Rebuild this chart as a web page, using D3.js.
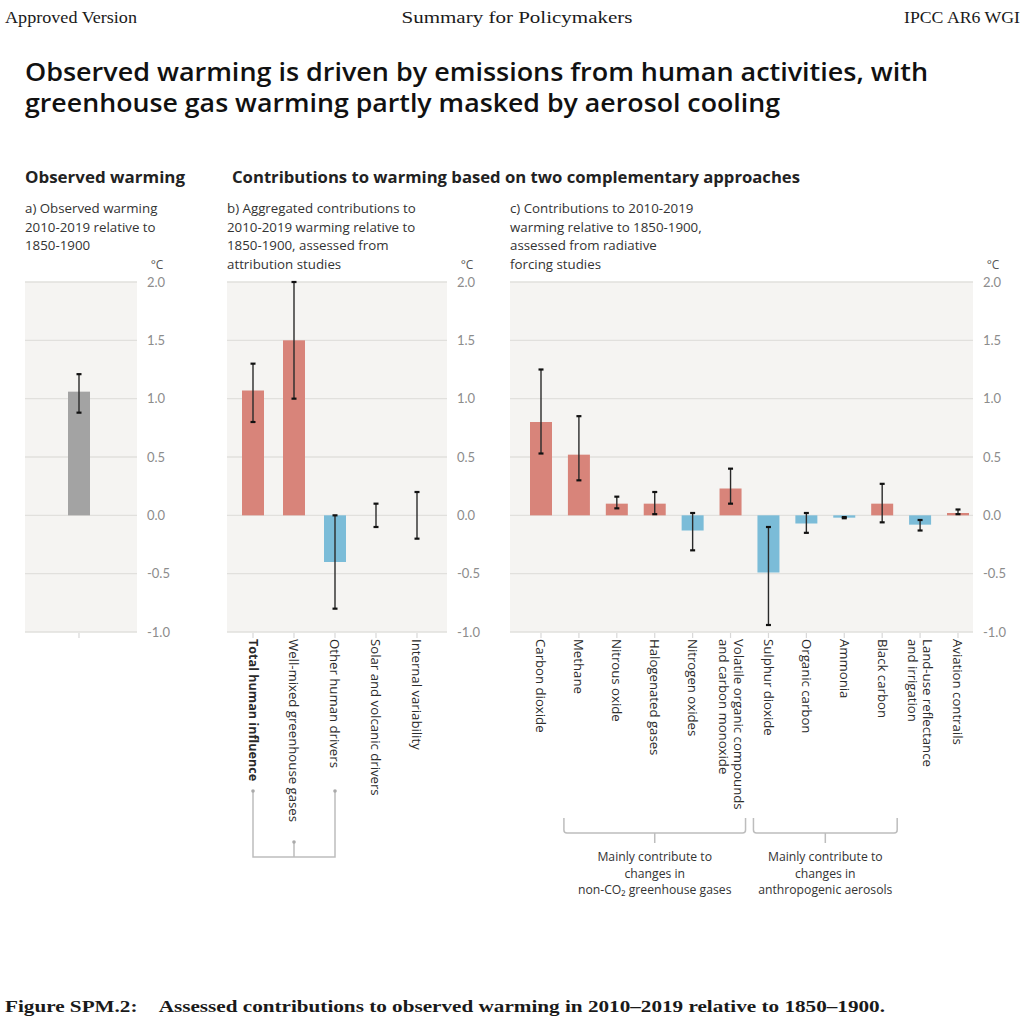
<!DOCTYPE html>
<html>
<head>
<meta charset="utf-8">
<script src="https://cdn.jsdelivr.net/npm/d3@7"></script>
<style>
  body { margin: 0; background: #fff; }
  text { font-family: "Open Sans", Lato, sans-serif; }
</style>
</head>
<body>
<div id="chart"></div>
<script>
var svgWidth = 1024;
var svgHeight = 1024;

// data (degrees C)
var obsCats = ["Observed"];
var obsVal = [1.06];
var obsLo = [0.88];
var obsHi = [1.21];

var aggCats = ["Total human influence", "Well-mixed greenhouse gases", "Other human drivers",
  "Solar and volcanic drivers", "Internal variability"];
var aggVal = [1.07, 1.5, -0.4, 0.0, 0.0];
var aggLo = [0.8, 1.0, -0.8, -0.1, -0.2];
var aggHi = [1.3, 2.0, 0.0, 0.1, 0.2];

var rfCats = ["Carbon dioxide", "Methane", "Nitrous oxide", "Halogenated gases", "Nitrogen oxides",
  "Volatile organic compounds|and carbon monoxide", "Sulphur dioxide", "Organic carbon", "Ammonia",
  "Black carbon", "Land-use reflectance|and irrigation", "Aviation contrails"];
var rfVal = [0.80, 0.52, 0.10, 0.10, -0.13, 0.23, -0.49, -0.07, -0.02, 0.10, -0.08, 0.02];
var rfLo = [0.53, 0.30, 0.06, 0.01, -0.30, 0.10, -0.94, -0.15, -0.025, -0.06, -0.13, 0.01];
var rfHi = [1.25, 0.85, 0.16, 0.20, 0.02, 0.40, -0.10, 0.02, -0.015, 0.27, -0.04, 0.05];

var yTicks = [-1.0, -0.5, 0.0, 0.5, 1.0, 1.5, 2.0];

var red = "#d8847a";
var blue = "#7bbcd8";
var grey = "#a3a3a3";

var svg = d3.select("#chart")
  .append("svg")
  .attr("width", svgWidth)
  .attr("height", svgHeight);

function serif(x, y, size, anchor, len, txt, weight) {
  svg.append("text").attr("x", x).attr("y", y)
    .attr("font-size", size).attr("text-anchor", anchor)
    .attr("font-weight", weight || 400)
    .attr("textLength", len).attr("lengthAdjust", "spacingAndGlyphs")
    .attr("fill", "#1a1a1a").style("font-family", "'Liberation Serif', serif").text(txt);
}

// page header
serif(5, 23, 17, "start", 132, "Approved Version");
serif(517, 23, 17, "middle", 231, "Summary for Policymakers");
serif(1020, 23, 17, "end", 116, "IPCC AR6 WGI");

// main title
var title = ["Observed warming is driven by emissions from human activities, with",
  "greenhouse gas warming partly masked by aerosol cooling"];
var titleLen = [903, 755];
title.forEach(function(t, i) {
  svg.append("text").attr("x", 25).attr("y", 81 + i * 31)
    .attr("font-size", 25).attr("font-weight", 600).attr("fill", "#111")
    .attr("textLength", titleLen[i]).attr("lengthAdjust", "spacingAndGlyphs").text(t);
});

svg.append("text").attr("x", 25).attr("y", 183).attr("font-size", 15.5)
  .attr("font-weight", 700).attr("fill", "#222")
  .attr("textLength", 160).attr("lengthAdjust", "spacingAndGlyphs").text("Observed warming");
svg.append("text").attr("x", 232).attr("y", 183).attr("font-size", 15.5)
  .attr("font-weight", 700).attr("fill", "#222")
  .attr("textLength", 568).attr("lengthAdjust", "spacingAndGlyphs")
  .text("Contributions to warming based on two complementary approaches");

var yScale = d3.scaleLinear().domain([-1, 2]).range([632, 282]);

function drawPanel(opts) {
  var g = svg.append("g");

  // subtitle
  opts.sub.forEach(function(t, i) {
    g.append("text").attr("x", opts.x0).attr("y", 213 + i * 18.5)
      .attr("font-size", 13.3).attr("fill", "#333").text(t);
  });

  g.append("rect")
    .attr("x", opts.x0).attr("y", yScale(2))
    .attr("width", opts.x1 - opts.x0).attr("height", yScale(-1) - yScale(2))
    .attr("fill", "#f5f4f2");

  g.selectAll(".grid").data(yTicks).enter().append("line")
    .attr("x1", opts.x0).attr("x2", opts.x1)
    .attr("y1", d => yScale(d)).attr("y2", d => yScale(d))
    .attr("stroke", "#e1e0dd").attr("stroke-width", 1.3);

  var axis = d3.axisRight(yScale).tickValues(yTicks)
    .tickFormat(d => d3.format(".1f")(d).replace("\u2212", "-")).tickSize(0);
  var ax = g.append("g").attr("transform", `translate(${opts.x1 + 10}, 0)`).call(axis);
  ax.select(".domain").remove();
  ax.selectAll("text").attr("font-size", 13).attr("fill", "#8c8c8c")
    .style("font-family", "Lato, sans-serif").attr("x", 0);
  g.append("text").attr("x", opts.x1 + 20).attr("y", 269).attr("text-anchor", "middle")
    .attr("font-size", 12).attr("fill", "#555").text("°C");

  var x = d3.scalePoint().domain(opts.cats).range(opts.range);
  var data = opts.cats.map(function(c, i) {
    return { cat: c, v: opts.val[i], lo: opts.lo[i], hi: opts.hi[i] };
  });

  // small ticks under the axis
  g.selectAll(".xt").data(data).enter().append("line")
    .attr("x1", d => x(d.cat)).attr("x2", d => x(d.cat))
    .attr("y1", yScale(-1) + 1).attr("y2", yScale(-1) + 6)
    .attr("stroke", "#d8d8d8").attr("stroke-width", 1.2);

  var bw = 22;
  g.selectAll(".bar").data(data).enter().append("rect")
    .attr("x", d => x(d.cat) - bw / 2)
    .attr("y", d => yScale(Math.max(0, d.v)))
    .attr("width", bw)
    .attr("height", d => Math.abs(yScale(d.v) - yScale(0)))
    .attr("fill", d => opts.color ? opts.color : (d.v >= 0 ? red : blue));

  g.selectAll(".err").data(data).enter().append("line")
    .attr("x1", d => x(d.cat)).attr("x2", d => x(d.cat))
    .attr("y1", d => yScale(d.lo)).attr("y2", d => yScale(d.hi))
    .attr("stroke", "#2a2a2a").attr("stroke-width", 1.4);
  ["lo", "hi"].forEach(function(k) {
    g.selectAll(".cap" + k).data(data).enter().append("line")
      .attr("x1", d => x(d.cat) - 2.5).attr("x2", d => x(d.cat) + 2.5)
      .attr("y1", d => yScale(d[k])).attr("y2", d => yScale(d[k]))
      .attr("stroke", "#111").attr("stroke-width", 2.2);
  });

  if (opts.labels) {
    data.forEach(function(d, i) {
      var lines = d.cat.split("|");
      var t = g.append("text")
        .attr("transform", `translate(${x(d.cat)}, ${yScale(-1) + 7}) rotate(90)`)
        .attr("font-size", opts.boldFirst && i === 0 ? 12.6 : 13.2).attr("fill", "#2a2a2a")
        .attr("font-weight", opts.boldFirst && i === 0 ? 700 : 400);
      lines.forEach(function(l, j) {
        t.append("tspan").attr("x", 0)
          .attr("dy", lines.length === 1 ? "0.35em" : (j === 0 ? "-0.25em" : "1.15em"))
          .text(l);
      });
    });
  }
  return x;
}

drawPanel({
  x0: 25, x1: 137, sub: ["a) Observed warming", "2010-2019 relative to", "1850-1900"],
  cats: obsCats, val: obsVal, lo: obsLo, hi: obsHi, range: [79, 79], color: grey, labels: false
});

var xb = drawPanel({
  x0: 227, x1: 447, sub: ["b) Aggregated contributions to", "2010-2019 warming relative to",
    "1850-1900, assessed from", "attribution studies"],
  cats: aggCats, val: aggVal, lo: aggLo, hi: aggHi, range: [253, 417], labels: true, boldFirst: true
});

var xc = drawPanel({
  x0: 510, x1: 973, sub: ["c) Contributions to 2010-2019", "warming relative to 1850-1900,",
    "assessed from radiative", "forcing studies"],
  cats: rfCats, val: rfVal, lo: rfLo, hi: rfHi, range: [541, 958], labels: true
});

// bracket joining human influence components in panel b
var bc = "#bdbdbd";
var b0 = xb(aggCats[0]), b1 = xb(aggCats[1]), b2 = xb(aggCats[2]);
svg.append("path")
  .attr("d", `M${b0},791 V857 H${b2} V791 M${b1},842 V857`)
  .attr("fill", "none").attr("stroke", bc).attr("stroke-width", 1.5);
[[b0, 791], [b1, 842], [b2, 791]].forEach(function(p) {
  svg.append("circle").attr("cx", p[0]).attr("cy", p[1]).attr("r", 1.8).attr("fill", "#aaa");
});

// group brackets in panel c
var groups = [
  { from: rfCats[1], to: rfCats[5], text: ["Mainly contribute to", "changes in", "non-CO\u2082 greenhouse gases"] },
  { from: rfCats[6], to: rfCats[9], text: ["Mainly contribute to", "changes in", "anthropogenic aerosols"] }
];
groups.forEach(function(gr) {
  var l = xc(gr.from) - 15, r = xc(gr.to) + 15, m = (l + r) / 2;
  svg.append("path")
    .attr("d", `M${l},818 V830 Q${l},833 ${l + 3},833 H${r - 3} Q${r},833 ${r},830 V818 M${m},833 V843`)
    .attr("fill", "none").attr("stroke", bc).attr("stroke-width", 1.5);
  gr.text.forEach(function(t, i) {
    svg.append("text").attr("x", m).attr("y", 861 + i * 16.5).attr("text-anchor", "middle")
      .attr("font-size", 12.2).attr("fill", "#333").text(t);
  });
});

// caption
serif(5, 1012, 17, "start", 880,
  "Figure SPM.2:\u00a0\u00a0\u00a0\u00a0Assessed contributions to observed warming in 2010\u20132019 relative to 1850\u20131900.", 700);
</script>
</body>
</html>
